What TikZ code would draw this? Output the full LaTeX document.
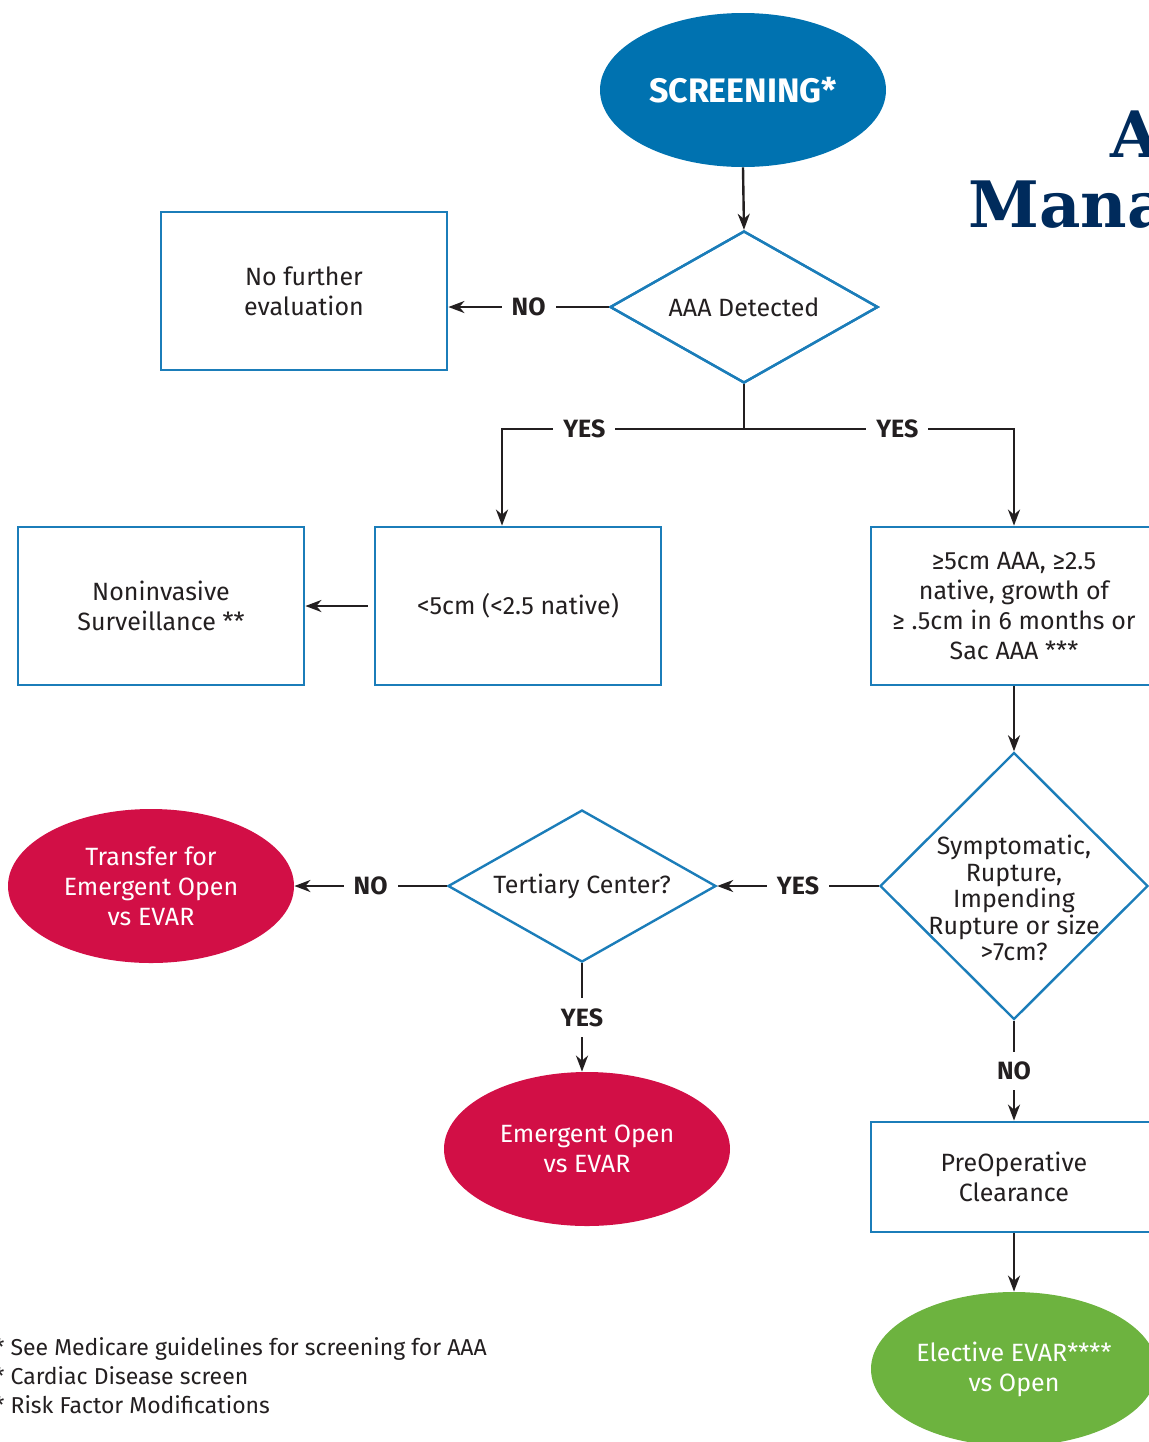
\documentclass[tikz,border=0pt]{standalone}
\usepackage{fontspec}
\setmainfont{Fira Sans}
\newfontfamily\titlefont{DejaVu Serif}
\usetikzlibrary{shapes.geometric}
\usetikzlibrary{arrows.meta}

\definecolor{screenblue}{HTML}{0072B0}
\definecolor{lineblue}{HTML}{1B7DB9}
\definecolor{alertred}{HTML}{D20F46}
\definecolor{electgreen}{HTML}{6DB33F}
\definecolor{titlenavy}{HTML}{002B5C}
\definecolor{ink}{HTML}{231F20}

\begin{document}
\begin{tikzpicture}[
        x=0.5pt, y=-0.5pt,
        every node/.style={font=\fontsize{12.5}{15}\selectfont, text=ink},
        box/.style={draw=lineblue, line width=1.4pt, minimum width=143pt,
            minimum height=79pt, align=center},
        decision/.style={diamond, draw=lineblue, line width=1.2pt,
            minimum width=134pt, minimum height=76pt, inner sep=0pt},
        terminal/.style={ellipse, minimum width=143pt, minimum height=77pt,
            inner sep=1pt, align=center, text=white},
        answer/.style={font=\fontsize{12.5}{15}\selectfont\bfseries,
            fill=white, inner sep=5pt},
        flow/.style={draw=ink, line width=1.2pt},
        tip/.style={-{Stealth[length=8pt, width=6pt, inset=2.5pt]}}
    ]

        % Marco de la pagina
        \useasboundingbox (0,0) rectangle (1149,1442);
        \clip (0,0) rectangle (1149,1442);

        % Titulo
        \node[anchor=base west, inner sep=0pt, text=titlenavy,
            font=\titlefont\fontsize{32}{36}\selectfont\bfseries] (titleA) at (1110,157) {A};
        \node[anchor=base west, inner sep=0pt, text=titlenavy,
            font=\titlefont\fontsize{32}{36}\selectfont\bfseries] (titleB) at (968,227) {Mana};

        % Inicio
        \node[terminal, fill=screenblue,
            font=\fontsize{17}{20}\selectfont\bfseries] (screen) at (743,90) {SCREENING*};

        % Decisiones
        \node[decision] (detect) at (744,307) {};
        \node[decision, label={[align=center]center:AAA Detected}] at (detect) {};
        \node[decision, minimum height=133.5pt,
            label={[align=center, yshift=-6pt, font=\fontsize{12.5}{13.3}\selectfont]center:{Symptomatic,\\Rupture,\\Impending\\Rupture or size\\>7cm?}}]
            (sympt) at (1014,886) {};
        \node[decision, label={[align=center]center:Tertiary Center?}] (tertiary) at (582,886) {};

        % Cajas
        \node[box] (nofurther) at (304,291) {No further\\evaluation};
        \node[box] (small) at (518,606) {<5cm (<2.5 native)};
        \node[box] (surveil) at (161,606) {Noninvasive\\Surveillance **};
        \node[box] (large) at (1014,606) {≥5cm AAA, ≥2.5\\native, growth of\\≥ .5cm in 6 months or\\Sac AAA ***};
        \node[box, minimum height=55pt] (preop) at (1014,1177) {PreOperative\\Clearance};

        % Resultados
        \node[terminal, fill=alertred] (transfer) at (151,886) {Transfer for\\Emergent Open\\vs EVAR};
        \node[terminal, fill=alertred] (emergent) at (587,1149) {Emergent Open\\vs EVAR};
        \node[terminal, fill=electgreen] (elective) at (1014,1369) {Elective EVAR****\\vs Open};

        % Conectores
        \coordinate (split) at (744,429);
        \draw[flow, tip] (screen.south) -- (detect.north);
        \draw[flow, tip] (detect.west) -- node[answer] {NO} (detect.west -| nofurther.east);
        \draw[flow] (detect.south) -- (split);
        \draw[flow, tip] (split) -| node[answer, pos=0.33] {YES} ([xshift=-8pt]small.north);
        \draw[flow, tip] (split) -| node[answer, pos=0.284] {YES} (large.north);
        \draw[flow, tip, shorten <=3pt] (small.west) -- (surveil.east);
        \draw[flow, tip] (large.south) -- (sympt.north);
        \draw[flow, tip] (sympt.west) -- node[answer] {YES} (tertiary.east);
        \draw[flow, tip] (tertiary.west) -- node[answer] {NO} (transfer.east);
        \draw[flow, tip] (tertiary.south) -- node[answer] {YES} (tertiary.south |- emergent.north);
        \draw[flow, tip] (sympt.south) -- node[answer] {NO} (preop.north);
        \draw[flow, tip] (preop.south) -- (elective.north);

        % Notas
        \node[anchor=base west, inner sep=0pt, align=left,
            font=\fontsize{11.5}{14.5}\selectfont] (notes) at (-6,1413)
            {* See Medicare guidelines for screening for AAA\\* Cardiac Disease screen\\* Risk Factor Modifications};

    \end{tikzpicture}
\end{document}
